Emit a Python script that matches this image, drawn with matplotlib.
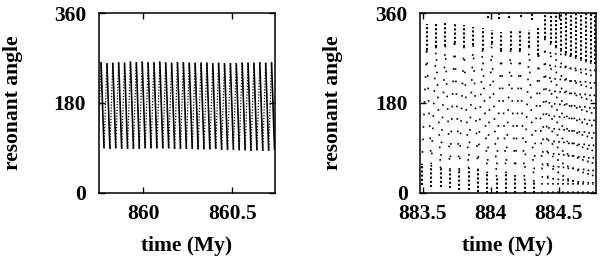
import matplotlib
matplotlib.use("Agg")
import matplotlib.pyplot as plt
import numpy as np

# ---------------- data ----------------
# Left panel: libration of the resonant angle (turning points)
left_peak_t = [859.763, 859.796, 859.829, 859.862, 859.895, 859.928, 859.961, 859.994,
               860.027, 860.060, 860.093, 860.126, 860.159, 860.192, 860.225, 860.258,
               860.291, 860.324, 860.357, 860.390, 860.423, 860.456, 860.489, 860.522,
               860.555, 860.588, 860.621, 860.654, 860.687, 860.720]
left_peak_v = [262, 260, 261, 262, 261, 263, 262, 263, 262, 262, 263, 262, 261, 262, 262,
               261, 261, 261, 261, 260, 261, 260, 260, 260, 261, 261, 261, 262, 261, 262]
left_trough_t = [859.746, 859.780, 859.813, 859.846, 859.879, 859.912, 859.945, 859.978,
                 860.011, 860.044, 860.077, 860.110, 860.143, 860.176, 860.209, 860.242,
                 860.275, 860.308, 860.341, 860.374, 860.407, 860.440, 860.473, 860.506,
                 860.539, 860.572, 860.605, 860.638, 860.671, 860.704, 860.737]
left_trough_v = [88, 89, 88, 89, 88, 88, 88, 88, 89, 89, 89, 89, 89, 88, 88, 88, 88, 87,
                 87, 87, 88, 86, 86, 86, 85, 85, 84, 85, 84, 84, 85]

# Right panel: large-amplitude libration turning into circulation
bot_t = [883.494, 883.563, 883.631, 883.700, 883.769, 883.837, 883.906, 883.975,
         884.043, 884.112, 884.180, 884.249, 884.317]
bot_hi = [55, 52, 49, 46, 42, 49, 45, 39, 32, 39, 32, 25, 22]
bot_lo = [15, 12, 12, 9, 5, 5, 2, 0, 0, 0, 0, 0, 0]

top_t = [883.529, 883.598, 883.666, 883.734, 883.803, 883.871, 883.940, 884.008,
         884.077, 884.146, 884.214, 884.283, 884.352]
top_hi = [338, 340, 341, 338, 336, 333, 330, 326, 322, 326, 328, 326, 330]
top_lo = [286, 293, 295, 300, 293, 296, 286, 300, 286, 286, 286, 293, 276]

tip_t = [883.978, 884.063, 884.137, 884.220, 884.301]
tip_lo = [351, 349, 350, 352, 346]

late_top_t = [884.399, 884.441, 884.480, 884.517, 884.551, 884.588, 884.625, 884.664,
              884.701, 884.736, 884.767]
late_top_lo = [310, 300, 293, 286, 280, 276, 272, 268, 265, 262, 258]
late_bot_t = [884.380, 884.420, 884.460, 884.498, 884.534, 884.570, 884.606, 884.644,
              884.682, 884.718, 884.752]
late_bot_hi = [30, 28, 26, 25, 24, 22, 22, 20, 20, 18, 18]

left_xticks = [860, 860.5]
left_xticklabels = ["860", "860.5"]
right_xticks = [883.5, 884, 884.5]
right_xticklabels = ["883.5", "884", "884.5"]
yticks = [0, 180, 360]
yticklabels = ["0", "180", "360"]

# ---------------- style ----------------
plt.rcParams["font.family"] = ["Liberation Serif", "DejaVu Serif"]
plt.rcParams["font.weight"] = "bold"
plt.rcParams["font.size"] = 15.5

fig = plt.figure(figsize=(6, 2.6), dpi=100)
ax1 = fig.add_axes([0.1645, 0.259, 0.294, 0.690])
ax2 = fig.add_axes([0.700, 0.259, 0.2933, 0.690])

# ---------------- left panel ----------------
for i in range(len(left_peak_t)):
    # ascending stroke (dotted)
    ax1.plot([left_trough_t[i], left_peak_t[i]], [left_trough_v[i], left_peak_v[i]],
             color="black", lw=0.9, linestyle=(0, (1, 1.3)), solid_capstyle="butt")
    # descending stroke (dense, dark)
    ax1.plot([left_peak_t[i], left_trough_t[i + 1]], [left_peak_v[i], left_trough_v[i + 1]],
             color="black", lw=1.2, solid_capstyle="butt")

ax1.set_xlim(859.75, 860.74)

# ---------------- right panel ----------------
dense = dict(color="black", lw=1.5, linestyle=(0, (1, 1.0)))
sparse = dict(color="black", lw=1.2, linestyle=(0, (1, 6.5)))

# dense clusters at turning points
ax2.vlines(bot_t, bot_lo, bot_hi, **dense)
ax2.vlines(top_t, top_lo, top_hi, **dense)
ax2.vlines(tip_t, tip_lo, [360] * len(tip_t), **dense)
ax2.vlines(late_top_t, late_top_lo, [360] * len(late_top_t), **dense)
ax2.vlines(late_bot_t, [0] * len(late_bot_t), late_bot_hi, color="black", lw=1.2,
           linestyle=(0, (1, 4)))

# sparse sweeps between turning points
for i in range(len(top_t)):
    ax2.plot([bot_t[i], top_t[i]], [bot_hi[i], top_lo[i]], **sparse)
    if i + 1 < len(bot_t):
        ax2.plot([top_t[i], bot_t[i + 1]], [top_lo[i], bot_hi[i + 1]], **sparse)
ax2.plot([top_t[-1], late_bot_t[0]], [top_lo[-1], late_bot_hi[0]], **sparse)
for i in range(len(late_top_t)):
    ax2.plot([late_bot_t[i], late_top_t[i]], [late_bot_hi[i], late_top_lo[i]], **sparse)
    if i + 1 < len(late_bot_t):
        ax2.plot([late_top_t[i], late_bot_t[i + 1]], [late_top_lo[i], late_bot_hi[i + 1]],
                 **sparse)

ax2.set_xlim(883.48, 884.775)

# ---------------- common formatting ----------------
for ax, xt, xtl, ylx in ((ax1, left_xticks, left_xticklabels, -0.486),
                         (ax2, right_xticks, right_xticklabels, -0.494)):
    ax.set_ylim(0, 360)
    ax.set_xticks(xt)
    ax.set_xticklabels(xtl)
    ax.set_yticks(yticks)
    ax.set_yticklabels(yticklabels)
    ax.tick_params(direction="in", length=4, width=1, top=True, right=True)
    ax.tick_params(axis="x", pad=8)
    ax.tick_params(axis="y", pad=9)
    for s in ax.spines.values():
        s.set_linewidth(1.1)
    ax.set_xlabel("time (My)", fontweight="bold")
    ax.set_ylabel("resonant angle", fontweight="bold")
    ax.xaxis.label.set_verticalalignment("center")
    ax.xaxis.set_label_coords(0.5, -0.30)
    ax.yaxis.label.set_verticalalignment("center")
    ax.yaxis.set_label_coords(ylx, 0.5)

fig.savefig("out.png", dpi=100)
